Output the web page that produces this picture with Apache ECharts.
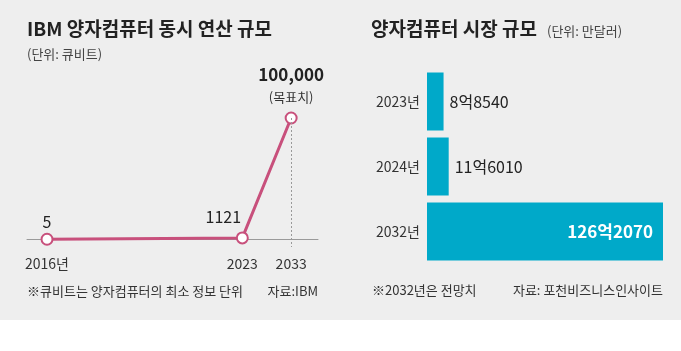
<!DOCTYPE html>
<html>
<head>
<meta charset="utf-8">
<script src="https://cdn.jsdelivr.net/npm/echarts@6/dist/echarts.min.js"></script>
<style>
  html, body { margin: 0; padding: 0; background: #fff; }
  #main { width: 681px; height: 351px; }
</style>
</head>
<body>
<div id="main"></div>
<script>
// left chart: IBM qubits
var qubitYears = ['2016년', '', '', '', '2023', '2033'];
var qubitPos = [0, 4, 5];            // slot index on the x axis (not to scale in the original)
var qubitValues = [5, 1121, 100000];

// right chart: market size (unit: 만달러)
var marketYears = ['2023년', '2024년', '2032년'];
var marketValues = [88540, 116010, 1262070];
var marketLabels = ['8억8540', '11억6010', '126억2070'];

var font = '"Noto Sans CJK KR", "Noto Sans", sans-serif';
var pink = '#c8507c';
var blue = '#00a9c9';

var dom = document.getElementById('main');
var myChart = echarts.init(dom);

var lineData = qubitPos.map(function (p, i) {
    var item = { value: [p, qubitValues[i]] };
    if (i === 1) item.label = { offset: [-19, -3] };
    if (i === 2) item.label = { show: false };
    return item;
});

var option = {
    backgroundColor: '#ffffff',
    animation: false,
    textStyle: { fontFamily: font },
    graphic: [
        { type: 'rect', z: -10, shape: { x: 0, y: 0, width: 681, height: 320 }, style: { fill: '#eeeeee' } },
        { type: 'text', left: 27, top: 19, style: { text: 'IBM 양자컴퓨터 동시 연산 규모', font: 'bold 19px ' + font, fill: '#222' } },
        { type: 'text', left: 27, top: 48, style: { text: '(단위: 큐비트)', font: '13px ' + font, fill: '#444' } },
        { type: 'text', left: 27, top: 285, style: { text: '※큐비트는 양자컴퓨터의 최소 정보 단위', font: '13px ' + font, fill: '#333' } },
        { type: 'text', right: 363, top: 285, style: { text: '자료:IBM', font: '13px ' + font, fill: '#333', align: 'right' } },
        { type: 'text', left: 371, top: 19, style: { text: '양자컴퓨터 시장 규모', font: 'bold 19px ' + font, fill: '#222' } },
        { type: 'text', left: 547, top: 25, style: { text: '(단위: 만달러)', font: '13px ' + font, fill: '#444' } },
        { type: 'text', left: 372, top: 284, style: { text: '※2032년은 전망치', font: '13px ' + font, fill: '#333' } },
        { type: 'text', right: 18, top: 284, style: { text: '자료: 포천비즈니스인사이트', font: '13px ' + font, fill: '#333' } }
    ],
    grid: [
        { left: 27, right: 363, top: 118, bottom: 104 },
        { left: 427, right: 18, top: 69, bottom: 87 }
    ],
    xAxis: [
        {
            gridIndex: 0,
            type: 'value',
            min: -0.41,
            max: 5.55,
            splitLine: { show: false },
            axisLine: { show: true, lineStyle: { color: '#9a9a9a', width: 1 } },
            axisTick: { show: false },
            axisLabel: {
                customValues: qubitPos,
                formatter: function (v) { return qubitYears[Math.round(v)]; },
                color: '#333',
                fontSize: 14,
                margin: 10
            }
        },
        {
            gridIndex: 1,
            type: 'value',
            min: 0,
            max: 1262070,
            show: false
        }
    ],
    yAxis: [
        {
            gridIndex: 0,
            type: 'value',
            min: -6400,
            max: 100000,
            show: false
        },
        {
            gridIndex: 1,
            type: 'category',
            inverse: true,
            data: marketYears,
            axisLine: { show: false },
            axisTick: { show: false },
            axisLabel: { color: '#333', fontSize: 14, margin: 7 }
        }
    ],
    series: [
        {
            type: 'line',
            xAxisIndex: 0,
            yAxisIndex: 0,
            data: lineData,
            symbol: 'circle',
            symbolSize: 11,
            itemStyle: { color: '#ffffff', borderColor: pink, borderWidth: 2 },
            lineStyle: { color: pink, width: 3 },
            z: 3,
            label: {
                show: true,
                position: 'top',
                distance: 3,
                color: '#222',
                fontSize: 16,
                formatter: function (p) { return String(p.value[1]); }
            },
            markLine: {
                silent: true,
                symbol: 'none',
                label: { show: false },
                lineStyle: { color: '#999', type: [2, 2], width: 1 },
                data: [[{ coord: [qubitPos[2], qubitValues[2]] }, { coord: [qubitPos[2], -6400] }]]
            },
            markPoint: {
                symbol: 'rect',
                symbolSize: 0,
                data: [{
                    coord: [qubitPos[2], qubitValues[2]],
                    label: {
                        show: true,
                        position: 'top',
                        distance: 11,
                        formatter: '{a|100,000}\n{b|(목표치)}',
                        rich: {
                            a: { fontSize: 17, fontWeight: 'bold', color: '#222', lineHeight: 24, align: 'center' },
                            b: { fontSize: 13, color: '#333', lineHeight: 20, align: 'center' }
                        }
                    }
                }]
            }
        },
        {
            type: 'bar',
            xAxisIndex: 1,
            yAxisIndex: 1,
            data: marketValues.map(function (v, i) {
                if (i === 2) {
                    return { value: v, label: { position: 'insideRight', distance: 10, color: '#fff', fontWeight: 'bold', fontSize: 17 } };
                }
                return v;
            }),
            barWidth: 58,
            itemStyle: { color: blue },
            label: {
                show: true,
                fontSize: 16,
                formatter: function (p) { return marketLabels[p.dataIndex]; },
                position: 'right',
                distance: 6,
                color: '#222'
            }
        }
    ]
};

if (option && typeof option === 'object') {
    myChart.setOption(option, true);
}
</script>
</body>
</html>
